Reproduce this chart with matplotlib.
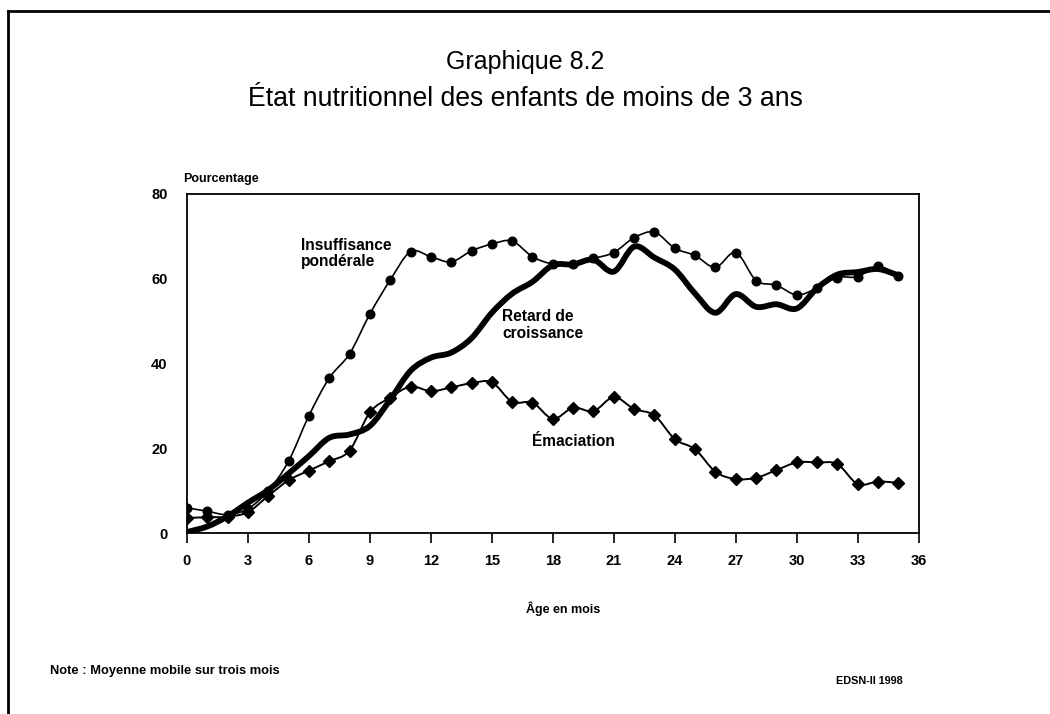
import numpy as np
import matplotlib
matplotlib.use("Agg")
import matplotlib.pyplot as plt
from matplotlib.path import Path
from matplotlib.patches import PathPatch
from matplotlib.lines import Line2D

# Age in months
months = list(range(36))

# Insuffisance pondérale (%)
insuffisance = [6.0, 5.2, 4.4, 5.8, 10.0, 17.0, 27.7, 36.6, 42.3, 51.7,
                59.7, 66.4, 65.2, 64.0, 66.6, 68.2, 68.9, 65.2, 63.5, 63.5,
                64.8, 66.2, 69.7, 71.0, 67.2, 65.5, 62.7, 66.2, 59.6, 58.5,
                56.2, 57.8, 60.3, 60.5, 63.0, 60.6]

# Retard de croissance (%)
retard = [0.3, 1.6, 4.0, 7.2, 10.2, 14.1, 18.2, 22.5, 23.3, 25.3,
          31.5, 38.3, 41.4, 42.6, 46.0, 52.0, 56.5, 59.3, 63.2, 63.4,
          64.5, 61.7, 67.6, 65.0, 62.2, 56.5, 52.0, 56.4, 53.4, 54.0,
          53.0, 57.8, 61.0, 61.6, 62.3, 60.8]

# Émaciation (%)
emaciation = [3.6, 3.8, 3.9, 5.0, 8.8, 12.5, 14.8, 17.0, 19.5, 28.5,
              32.0, 34.6, 33.5, 34.4, 35.4, 35.6, 31.0, 30.8, 27.0, 29.6,
              28.8, 32.1, 29.3, 27.8, 22.2, 19.8, 14.5, 12.8, 13.1, 14.9,
              16.7, 16.7, 16.3, 11.6, 12.2, 11.9]

x_ticks = list(range(0, 37, 3))
y_ticks = [0, 20, 40, 60, 80]

plt.rcParams["font.family"] = ["Liberation Sans", "DejaVu Sans"]


def smooth_path(xs, ys):
    """Cubic Bezier path through the points (Catmull-Rom style)."""
    pts = np.column_stack([xs, ys]).astype(float)
    n = len(pts)
    verts = [pts[0]]
    codes = [Path.MOVETO]
    t = 1.0 / 6.0
    for i in range(n - 1):
        p0 = pts[i - 1] if i > 0 else pts[i]
        p1 = pts[i]
        p2 = pts[i + 1]
        p3 = pts[i + 2] if i + 2 < n else pts[i + 1]
        c1 = p1 + (p2 - p0) * t
        c2 = p2 - (p3 - p1) * t
        verts.extend([c1, c2, p2])
        codes.extend([Path.CURVE4] * 3)
    return Path(verts, codes)


fig = plt.figure(figsize=(10.5, 7.14), dpi=100)
ax = fig.add_axes([0.178, 0.2531, 0.697, 0.4752])

# Lines
ax.add_patch(PathPatch(smooth_path(months, insuffisance), fill=False,
                       edgecolor="black", lw=1.2, capstyle="round", zorder=3))
ax.add_patch(PathPatch(smooth_path(months, emaciation), fill=False,
                       edgecolor="black", lw=1.4, capstyle="round", zorder=3))
ax.add_patch(PathPatch(smooth_path(months, retard), fill=False,
                       edgecolor="black", lw=4.2, capstyle="round",
                       joinstyle="round", zorder=4))

# Markers
ax.plot(months, insuffisance, linestyle="none", marker="o", ms=6.2,
        color="black", zorder=5)
ax.plot(months, emaciation, linestyle="none", marker="D", ms=6.0,
        color="black", zorder=5)

ax.set_xlim(0, 36)
ax.set_ylim(0, 80)
ax.set_xticks(x_ticks)
ax.set_yticks(y_ticks)
ax.tick_params(axis="x", direction="out", length=7, width=1.2, pad=8,
               labelsize=10.5)
ax.tick_params(axis="y", length=0, pad=14, labelsize=10.5)
for lab in ax.get_xticklabels() + ax.get_yticklabels():
    lab.set_fontweight("bold")
for sp in ax.spines.values():
    sp.set_linewidth(1.3)

# Series labels
ax.text(5.6, 69.6, "Insuffisance\npondérale", fontsize=11.2,
        fontweight="bold", ha="left", va="top", linespacing=1.1)
ax.text(15.5, 52.8, "Retard de\ncroissance", fontsize=11.2,
        fontweight="bold", ha="left", va="top", linespacing=1.1)
ax.text(17.0, 21.6, "Émaciation", fontsize=11.2, fontweight="bold",
        ha="left", va="center")

# Axis titles
fig.text(183 / 1050, 1 - 179 / 714, "Pourcentage", fontsize=9.0,
         fontweight="bold", ha="left", va="center")
fig.text(563 / 1050, 1 - 609 / 714, "Âge en mois", fontsize=9.0,
         fontweight="bold", ha="center", va="center")

# Titles
fig.text(0.5, 1 - 62 / 714, "Graphique 8.2", fontsize=18,
         ha="center", va="center")
fig.text(0.5, 1 - 99 / 714, "État nutritionnel des enfants de moins de 3 ans",
         fontsize=19.2, ha="center", va="center")

# Footer
fig.text(50 / 1050, 1 - 671 / 714, "Note : Moyenne mobile sur trois mois",
         fontsize=9.3, fontweight="bold", ha="left", va="center")
fig.text(903 / 1050, 1 - 681 / 714, "EDSN-II 1998", fontsize=7.8,
         fontweight="bold", ha="right", va="center")

# Frame around the figure (top and left edges)
fig.add_artist(Line2D([8 / 1050, 1.0], [1 - 11 / 714, 1 - 11 / 714],
                      color="black", lw=2.0, transform=fig.transFigure))
fig.add_artist(Line2D([8 / 1050, 8 / 1050], [0.0, 1 - 11 / 714],
                      color="black", lw=2.0, transform=fig.transFigure))

fig.savefig("out.png", dpi=100)
